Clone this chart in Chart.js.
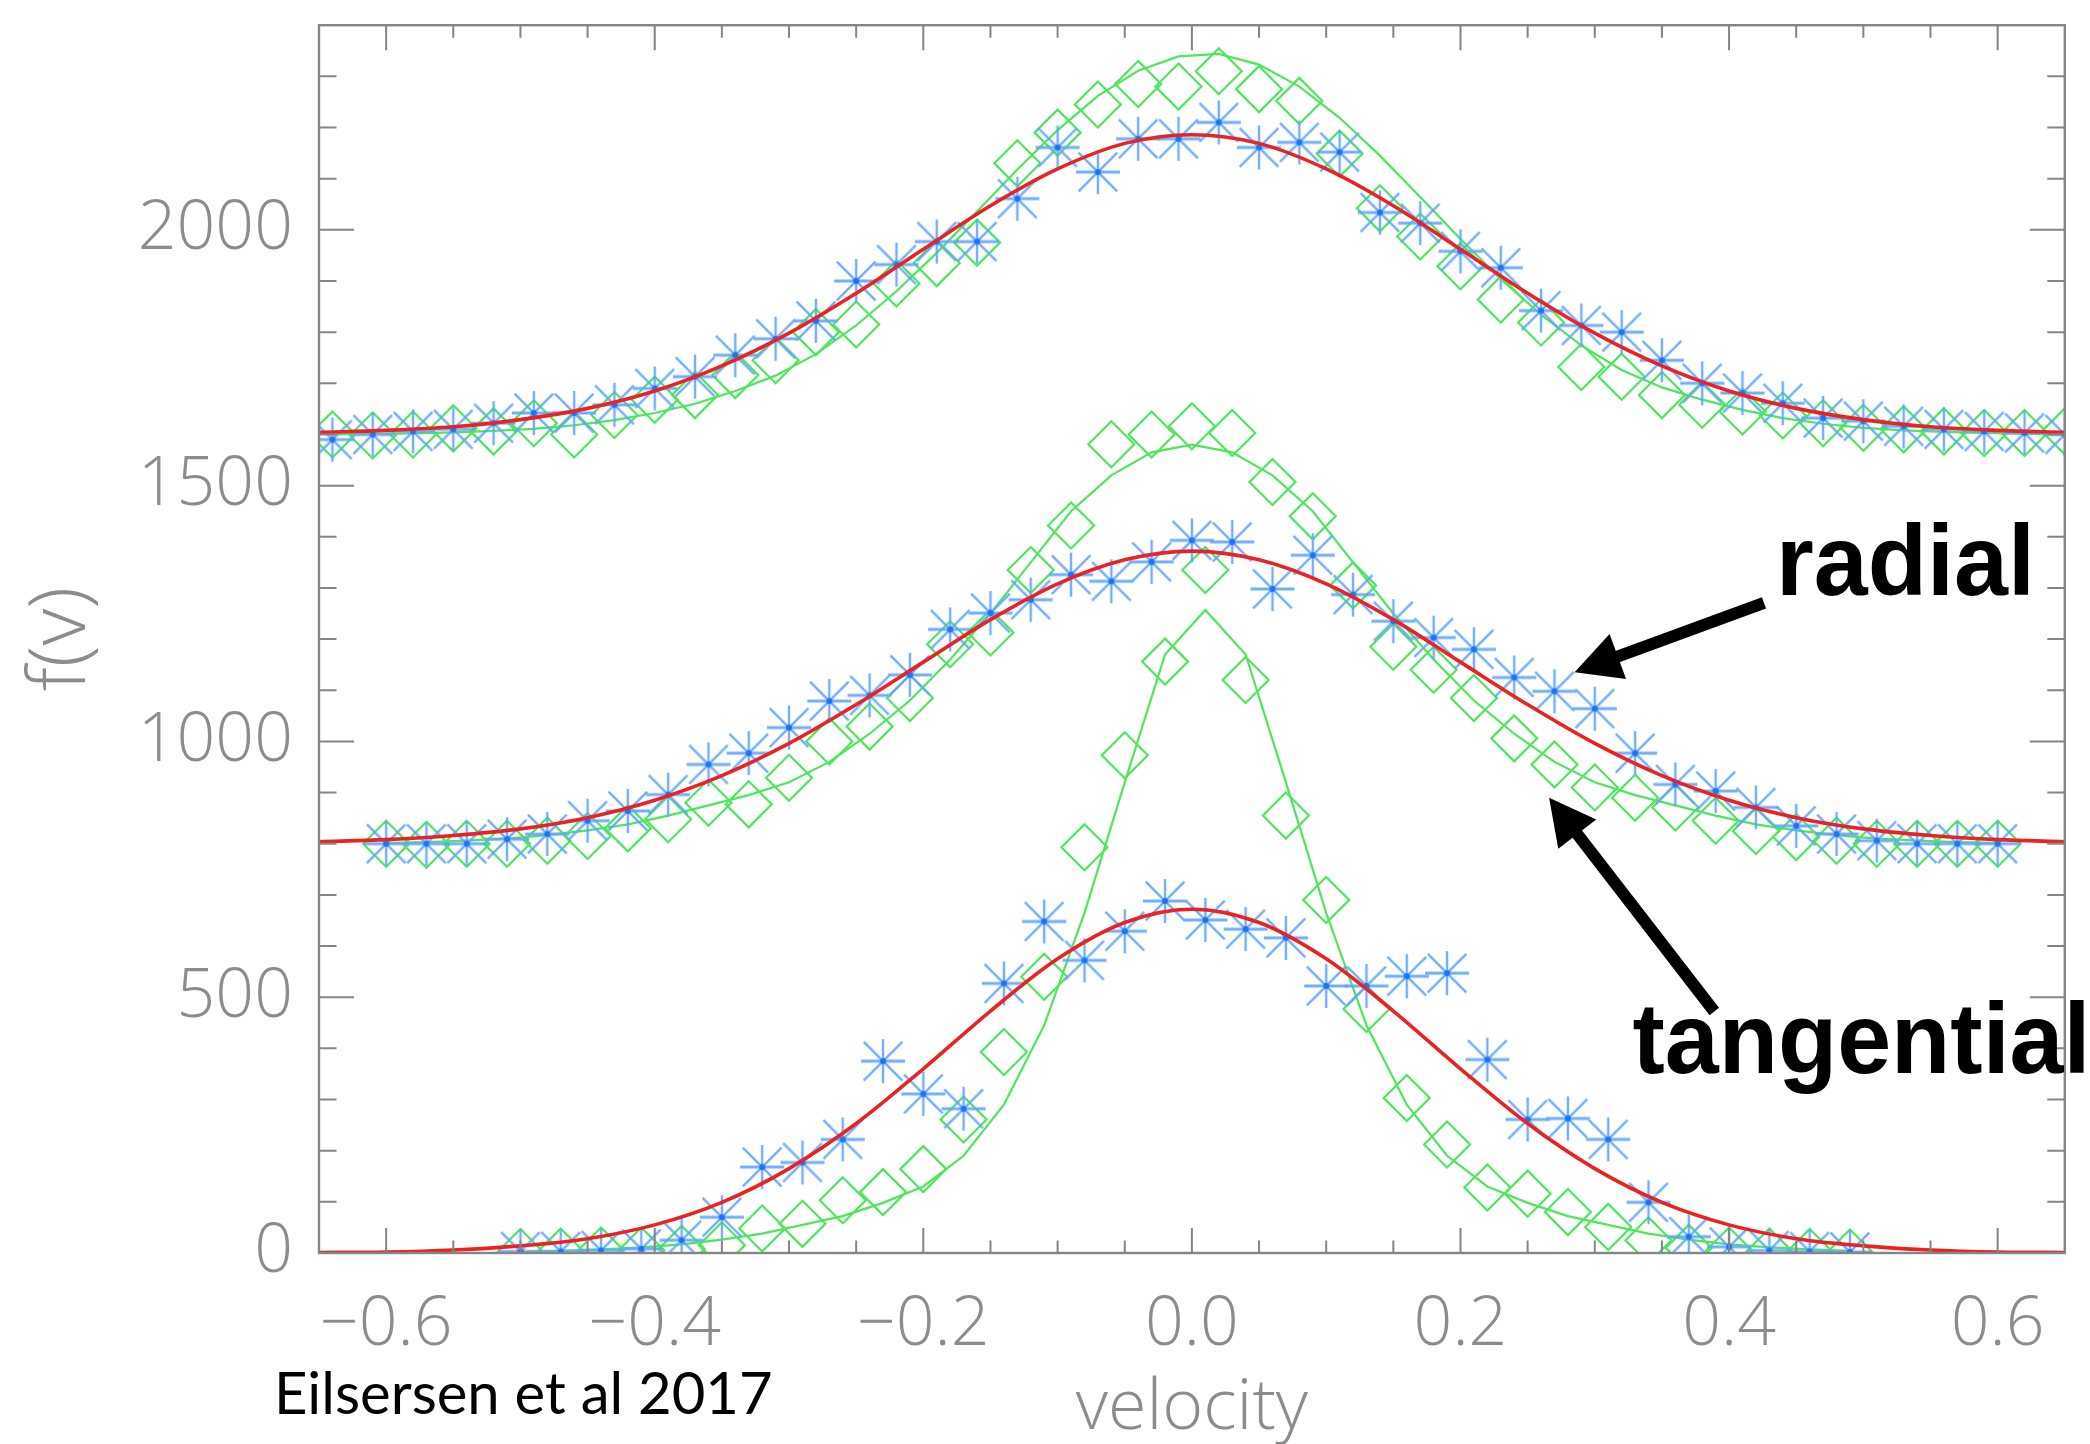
<!DOCTYPE html>
<html>
<head>
<meta charset="utf-8">
<title>f(v) - velocity distributions</title>
<script src="https://cdn.jsdelivr.net/npm/chart.js@4.4.1/dist/chart.umd.min.js"></script>
<style>
  html, body { margin: 0; padding: 0; background: #fff; }
  #wrap { width: 2090px; height: 1444px; }
</style>
</head>
<body>
<div id="wrap"><canvas id="myChart" width="2090" height="1444"></canvas></div>
<script>
// velocity bins, one grid per shell
const velTop = [-0.64, -0.61, -0.58, -0.55, -0.52, -0.49, -0.46, -0.43, -0.40, -0.37, -0.34, -0.31, -0.28, -0.25, -0.22,
  -0.19, -0.16, -0.13, -0.10, -0.07, -0.04, -0.01, 0.02, 0.05, 0.08, 0.11, 0.14, 0.17, 0.20, 0.23, 0.26, 0.29, 0.32,
  0.35, 0.38, 0.41, 0.44, 0.47, 0.50, 0.53, 0.56, 0.59, 0.62, 0.65];
const velMid = [-0.60, -0.57, -0.54, -0.51, -0.48, -0.45, -0.42, -0.39, -0.36, -0.33, -0.30, -0.27, -0.24, -0.21,
  -0.18, -0.15, -0.12, -0.09, -0.06, -0.03, 0.00, 0.03, 0.06, 0.09, 0.12, 0.15, 0.18, 0.21, 0.24, 0.27, 0.30, 0.33,
  0.36, 0.39, 0.42, 0.45, 0.48, 0.51, 0.54, 0.57, 0.60];
const velBot = [-0.50, -0.47, -0.44, -0.41, -0.38, -0.35, -0.32, -0.29, -0.26, -0.23, -0.20, -0.17, -0.14, -0.11,
  -0.08, -0.05, -0.02, 0.01, 0.04, 0.07, 0.10, 0.13, 0.16, 0.19, 0.22, 0.25, 0.28, 0.31, 0.34, 0.37, 0.40, 0.43,
  0.46, 0.49];
// sample points for the smooth radial fits
const velFit = [-0.65, -0.60, -0.55, -0.50, -0.45, -0.40, -0.35, -0.30, -0.25, -0.20, -0.15, -0.10, -0.05, 0.00,
  0.05, 0.10, 0.15, 0.20, 0.25, 0.30, 0.35, 0.40, 0.45, 0.50, 0.55, 0.60, 0.65];

// top shell (offset by 1600)
const radialTop = [1590, 1600, 1606, 1610, 1622, 1642, 1642, 1658, 1690, 1713, 1755, 1787, 1822, 1900, 1932, 1977,
  1977, 2061, 2161, 2113, 2178, 2178, 2210, 2161, 2171, 2152, 2034, 2013, 1958, 1926, 1842, 1813, 1800, 1745, 1700,
  1681, 1661, 1632, 1626, 1616, 1610, 1606, 1603, 1600];
const tangTop = [1600, 1598, 1600, 1612, 1606, 1622, 1600, 1638, 1668, 1677, 1716, 1745, 1800, 1815, 1895, 1935,
  1975, 2130, 2190, 2245, 2285, 2280, 2310, 2275, 2252, 2149, 2042, 1987, 1929, 1864, 1819, 1732, 1713, 1677, 1658,
  1645, 1637, 1622, 1613, 1610, 1606, 1603, 1603, 1606];
const tangFitTop = [1600, 1601, 1602, 1604, 1607, 1611, 1618, 1628, 1642, 1660, 1685, 1715, 1757, 1813, 1880, 1955,
  2036, 2118, 2195, 2262, 2311, 2339, 2344, 2323, 2280, 2219, 2145, 2064, 1982, 1904, 1834, 1774, 1726, 1692, 1668,
  1648, 1632, 1621, 1613, 1608, 1605, 1603, 1601, 1600];
const radFitTop = [1604, 1608, 1615, 1629, 1651, 1685, 1734, 1798, 1876, 1962, 2047, 2119, 2169, 2186, 2169, 2119,
  2047, 1962, 1876, 1798, 1734, 1685, 1651, 1629, 1615, 1608, 1604];

// middle shell (offset by 800)
const radialMid = [800, 800, 800, 809, 819, 845, 864, 896, 955, 977, 1027, 1079, 1090, 1130, 1219, 1251, 1277, 1326,
  1313, 1351, 1393, 1390, 1298, 1364, 1287, 1235, 1203, 1180, 1125, 1098, 1064, 977, 916, 903, 871, 835, 819, 806,
  800, 800, 800];
const tangMid = [800, 798, 800, 800, 806, 815, 830, 848, 880, 877, 929, 1000, 1029, 1085, 1190, 1213, 1335, 1422,
  1581, 1600, 1616, 1603, 1507, 1440, 1305, 1185, 1140, 1085, 1006, 955, 910, 890, 871, 845, 825, 813, 806, 800, 800,
  800, 800];
const tangFitMid = [801, 803, 806, 810, 817, 826, 838, 855, 875, 895, 920, 960, 1015, 1080, 1160, 1250, 1350, 1450,
  1520, 1565, 1580, 1565, 1520, 1450, 1350, 1250, 1160, 1080, 1015, 960, 920, 895, 875, 855, 838, 826, 817, 810, 806,
  803, 801];
const radFitMid = [804, 808, 816, 829, 851, 885, 933, 996, 1072, 1155, 1238, 1308, 1355, 1372, 1355, 1308, 1238,
  1155, 1072, 996, 933, 885, 851, 829, 816, 808, 804];

// bottom shell
const radialBot = [3, 3, 5, 8, 25, 70, 168, 177, 222, 375, 311, 282, 527, 648, 572, 629, 688, 651, 633, 616, 522,
  522, 541, 547, 378, 261, 263, 222, 99, 32, 12, 5, 3, 2];
const tangBot = [2, 3, 5, 5, 8, 15, 48, 57, 103, 119, 164, 261, 393, 540, 793, 973, 1156, 1335, 1120, 855, 690, 477,
  303, 212, 128, 116, 80, 51, 25, 10, 5, 3, 2, 1];
const tangFitBot = [2, 4, 7, 11, 17, 26, 38, 55, 72, 98, 130, 190, 290, 445, 665, 920, 1170, 1257, 1170, 920, 665,
  445, 290, 190, 130, 98, 72, 55, 38, 26, 17, 11, 7, 4];
const radFitBot = [1, 2, 6, 14, 28, 55, 99, 165, 253, 360, 473, 575, 646, 672, 646, 575, 473, 360, 253, 165, 99, 55,
  28, 14, 6, 2, 1];

// axis ticks
const xTicks = [-0.6, -0.4, -0.2, 0, 0.2, 0.4, 0.6];
const xMinor = [-0.55, -0.5, -0.45, -0.35, -0.3, -0.25, -0.15, -0.1, -0.05, 0.05, 0.1, 0.15, 0.25, 0.3, 0.35, 0.45,
  0.5, 0.55];
const yTicks = [0, 500, 1000, 1500, 2000];
const yMinor = [100, 200, 300, 400, 600, 700, 800, 900, 1100, 1200, 1300, 1400, 1600, 1700, 1800, 1900, 2100, 2200,
  2300];

const BLUE = "rgba(96, 165, 255, 0.9)";
const BLUE_DOT = "#1f74ee";
const GREEN = "rgb(78, 230, 92)";
const RED = "rgb(236, 34, 34)";
const GRAY = "#858585";
const LABEL_GRAY = "#8c8c8c";

const pts = (xs, ys) => xs.map((x, i) => ({ x: x, y: ys[i] }));

// IDL-style asterisk: a plus with a full-size cross and a dot in the middle
function asteriskImage(r) {
  const c = document.createElement("canvas");
  const s = Math.ceil(2 * r + 6);
  c.width = c.height = s;
  const g = c.getContext("2d");
  const m = s / 2;
  const d = r * 0.88;
  g.strokeStyle = BLUE;
  g.lineCap = "butt";
  g.lineWidth = 3.2;
  g.beginPath();
  g.moveTo(m - r, m); g.lineTo(m + r, m);
  g.stroke();
  g.lineWidth = 2.4;
  g.beginPath();
  g.moveTo(m, m - r); g.lineTo(m, m + r);
  g.moveTo(m - d, m - d); g.lineTo(m + d, m + d);
  g.moveTo(m + d, m - d); g.lineTo(m - d, m + d);
  g.stroke();
  g.fillStyle = BLUE_DOT;
  g.beginPath();
  g.arc(m, m, 3, 0, Math.PI * 2);
  g.fill();
  return c;
}
const ASTERISK = asteriskImage(22);

function asterisks(xs, ys) {
  return {
    data: pts(xs, ys),
    showLine: false,
    pointStyle: ASTERISK,
    pointRadius: 22,
    order: 2,
    clip: 0,
  };
}

function diamonds(xs, ys) {
  return {
    data: pts(xs, ys),
    showLine: false,
    pointStyle: "rectRot",
    pointRadius: 23,
    pointBorderWidth: 2.2,
    pointBorderColor: GREEN,
    pointBackgroundColor: "transparent",
    order: 3,
    clip: 0,
  };
}

function greenFit(xs, ys) {
  return {
    data: pts(xs, ys),
    showLine: true,
    borderColor: GREEN,
    borderWidth: 2.2,
    tension: 0,
    pointRadius: 0,
    order: 4,
    clip: 0,
  };
}

function redFit(xs, ys) {
  return {
    data: pts(xs, ys),
    showLine: true,
    borderColor: RED,
    borderWidth: 3.6,
    cubicInterpolationMode: "monotone",
    pointRadius: 0,
    order: 0,
    clip: 0,
  };
}

function arrow(ctx, x0, y0, x1, y1) {
  const ang = Math.atan2(y1 - y0, x1 - x0);
  const headLen = 46, headHalf = 24;
  const bx = x1 - Math.cos(ang) * headLen;
  const by = y1 - Math.sin(ang) * headLen;
  ctx.beginPath();
  ctx.moveTo(x0, y0);
  ctx.lineTo(bx + Math.cos(ang) * 4, by + Math.sin(ang) * 4);
  ctx.lineWidth = 12;
  ctx.lineCap = "butt";
  ctx.stroke();
  ctx.beginPath();
  ctx.moveTo(x1, y1);
  ctx.lineTo(bx - Math.sin(ang) * headHalf, by + Math.cos(ang) * headHalf);
  ctx.lineTo(bx + Math.sin(ang) * headHalf, by - Math.cos(ang) * headHalf);
  ctx.closePath();
  ctx.fill();
}

function label(ctx, text, x, y) {
  ctx.save();
  ctx.translate(x, y);
  ctx.scale(0.97, 1);
  ctx.fillText(text, 0, 0);
  ctx.restore();
}

// box, inward ticks on all four sides, arrows and text
const frameAndNotes = {
  id: "frameAndNotes",
  afterDatasetsDraw(chart) {
    const { ctx, chartArea: a, scales: { x, y } } = chart;
    ctx.save();
    ctx.strokeStyle = GRAY;
    ctx.lineWidth = 2.4;
    ctx.strokeRect(a.left, a.top, a.right - a.left, a.bottom - a.top);

    ctx.lineWidth = 2;
    ctx.beginPath();
    const xTick = (v, len) => {
      const px = x.getPixelForValue(v);
      ctx.moveTo(px, a.bottom); ctx.lineTo(px, a.bottom - len);
      ctx.moveTo(px, a.top); ctx.lineTo(px, a.top + len);
    };
    const yTick = (v, len) => {
      const py = y.getPixelForValue(v);
      ctx.moveTo(a.left, py); ctx.lineTo(a.left + len, py);
      ctx.moveTo(a.right, py); ctx.lineTo(a.right - len, py);
    };
    xTicks.forEach(v => xTick(v, 25));
    xMinor.forEach(v => xTick(v, 12.5));
    yTicks.forEach(v => yTick(v, 35));
    yMinor.forEach(v => yTick(v, 17.5));
    ctx.stroke();

    // annotations
    ctx.fillStyle = "#000";
    ctx.strokeStyle = "#000";
    arrow(ctx, x.getPixelForValue(0.426), y.getPixelForValue(1271), x.getPixelForValue(0.285), y.getPixelForValue(1135));
    arrow(ctx, x.getPixelForValue(0.389), y.getPixelForValue(472), x.getPixelForValue(0.266), y.getPixelForValue(890));

    ctx.font = "bold 100px 'Liberation Sans', Arial, sans-serif";
    ctx.textBaseline = "alphabetic";
    ctx.textAlign = "left";
    label(ctx, "radial", x.getPixelForValue(0.435), y.getPixelForValue(1286));
    label(ctx, "tangential", x.getPixelForValue(0.328), y.getPixelForValue(351));

    ctx.font = "58px Lato, 'Open Sans', sans-serif";
    ctx.fillText("Eilsersen et al 2017", 274, 1414);
    ctx.restore();
  },
};

const tickFont = { family: "'Open Sans', sans-serif", size: 68, weight: "300" };

const ctx = document.getElementById("myChart").getContext("2d");
const myChart = new Chart(ctx, {
  type: "scatter",
  data: {
    datasets: [
      redFit(velFit, radFitTop),
      redFit(velFit, radFitMid),
      redFit(velFit, radFitBot),
      asterisks(velTop, radialTop),
      asterisks(velMid, radialMid),
      asterisks(velBot, radialBot),
      diamonds(velTop, tangTop),
      diamonds(velMid, tangMid),
      diamonds(velBot, tangBot),
      greenFit(velTop, tangFitTop),
      greenFit(velMid, tangFitMid),
      greenFit(velBot, tangFitBot),
    ],
  },
  options: {
    responsive: false,
    devicePixelRatio: 1,
    animation: false,
    events: [],
    layout: { padding: { top: 14, right: 22, left: 0, bottom: 0 } },
    plugins: {
      legend: { display: false },
      tooltip: { enabled: false },
    },
    scales: {
      x: {
        type: "linear",
        position: "bottom",
        min: -0.65,
        max: 0.65,
        grid: { display: false, drawTicks: false },
        border: { display: false },
        afterBuildTicks: (s) => { s.ticks = xTicks.map(v => ({ value: v })); },
        afterFit: (s) => {
          s.height = 191;
          s.paddingLeft = 0;
          s.paddingRight = 0;
        },
        ticks: {
          font: tickFont,
          color: LABEL_GRAY,
          padding: 32,
          maxRotation: 0,
          autoSkip: false,
          callback: (v) => (v < 0 ? "\u2212" : "") + Math.abs(v).toFixed(1),
        },
        title: {
          display: true,
          text: "velocity",
          color: LABEL_GRAY,
          font: { family: "'Open Sans', sans-serif", size: 70, weight: "300", lineHeight: 1 },
          padding: { top: 0, bottom: 0 },
        },
      },
      y: {
        type: "linear",
        position: "left",
        min: 0,
        max: 2400,
        grid: { display: false, drawTicks: false },
        border: { display: false },
        afterBuildTicks: (s) => { s.ticks = yTicks.map(v => ({ value: v })); },
        afterFit: (s) => {
          s.width = 319;
          s.paddingTop = 0;
          s.paddingBottom = 0;
        },
        ticks: {
          font: tickFont,
          color: LABEL_GRAY,
          padding: 26,
          autoSkip: false,
          callback: (v) => String(v),
        },
        title: {
          display: true,
          text: "f(v)",
          color: LABEL_GRAY,
          font: { family: "'Open Sans', sans-serif", size: 80, weight: "300", lineHeight: 1 },
          padding: { top: 22, bottom: 0 },
        },
      },
    },
  },
  plugins: [frameAndNotes],
});
</script>
</body>
</html>
